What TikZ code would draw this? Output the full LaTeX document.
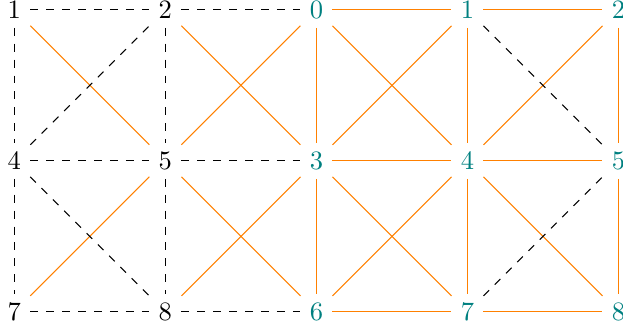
\documentclass[tikz,border=0pt]{standalone}
\usepackage{xcolor}
\definecolor{blaugruen}{RGB}{0,128,128}
\begin{document}
\begin{tikzpicture}
    [
    x=1cm, y=1cm, >=latex,
    %Voreinstellungen fuer Kanten
    gestrichelt/.style={black, dashed, thin},
    kante/.style={orange, thin}
    ]
    
    %Rahmen des Bildes
    \useasboundingbox (-0.19,-0.22) rectangle (8.06,4.13);
    
    %Knoten links (schwarz)
    \node (l1) at (0,4) {$1$};
    \node (l2) at (2,4) {$2$};
    \node (l4) at (0,2) {$4$};
    \node (l5) at (2,2) {$5$};
    \node (l7) at (0,0) {$7$};
    \node (l8) at (2,0) {$8$};
    
    %Knoten rechts (blaugruen)
    \foreach \n/\x/\y in {0/4/4,1/6/4,2/8/4,3/4/2,4/6/2,5/8/2,6/4/0,7/6/0,8/8/0}
    \node[text=blaugruen] (r\n) at (\x,\y) {$\n$};
    
    %orange Kanten
    \foreach \a/\b in {l1/l5,l7/l5,l2/r3,l5/r0,l5/r6,l8/r3,
        r0/r3,r3/r6,r0/r1,r1/r2,r3/r4,r4/r5,r6/r7,r7/r8,
        r0/r4,r1/r3,r3/r7,r4/r6,r1/r4,r4/r7,r2/r4,r4/r8,r2/r5,r5/r8}
    \draw[kante] (\a) -- (\b);
    
    %gestrichelte Kanten
    \foreach \a/\b in {l1/l2,l2/r0,l4/l5,l5/r3,l7/l8,l8/r6,
        l1/l4,l4/l7,l2/l5,l5/l8,l4/l2,l4/l8,r1/r5,r7/r5}
    \draw[gestrichelt] (\a) -- (\b);
\end{tikzpicture}
\end{document}
